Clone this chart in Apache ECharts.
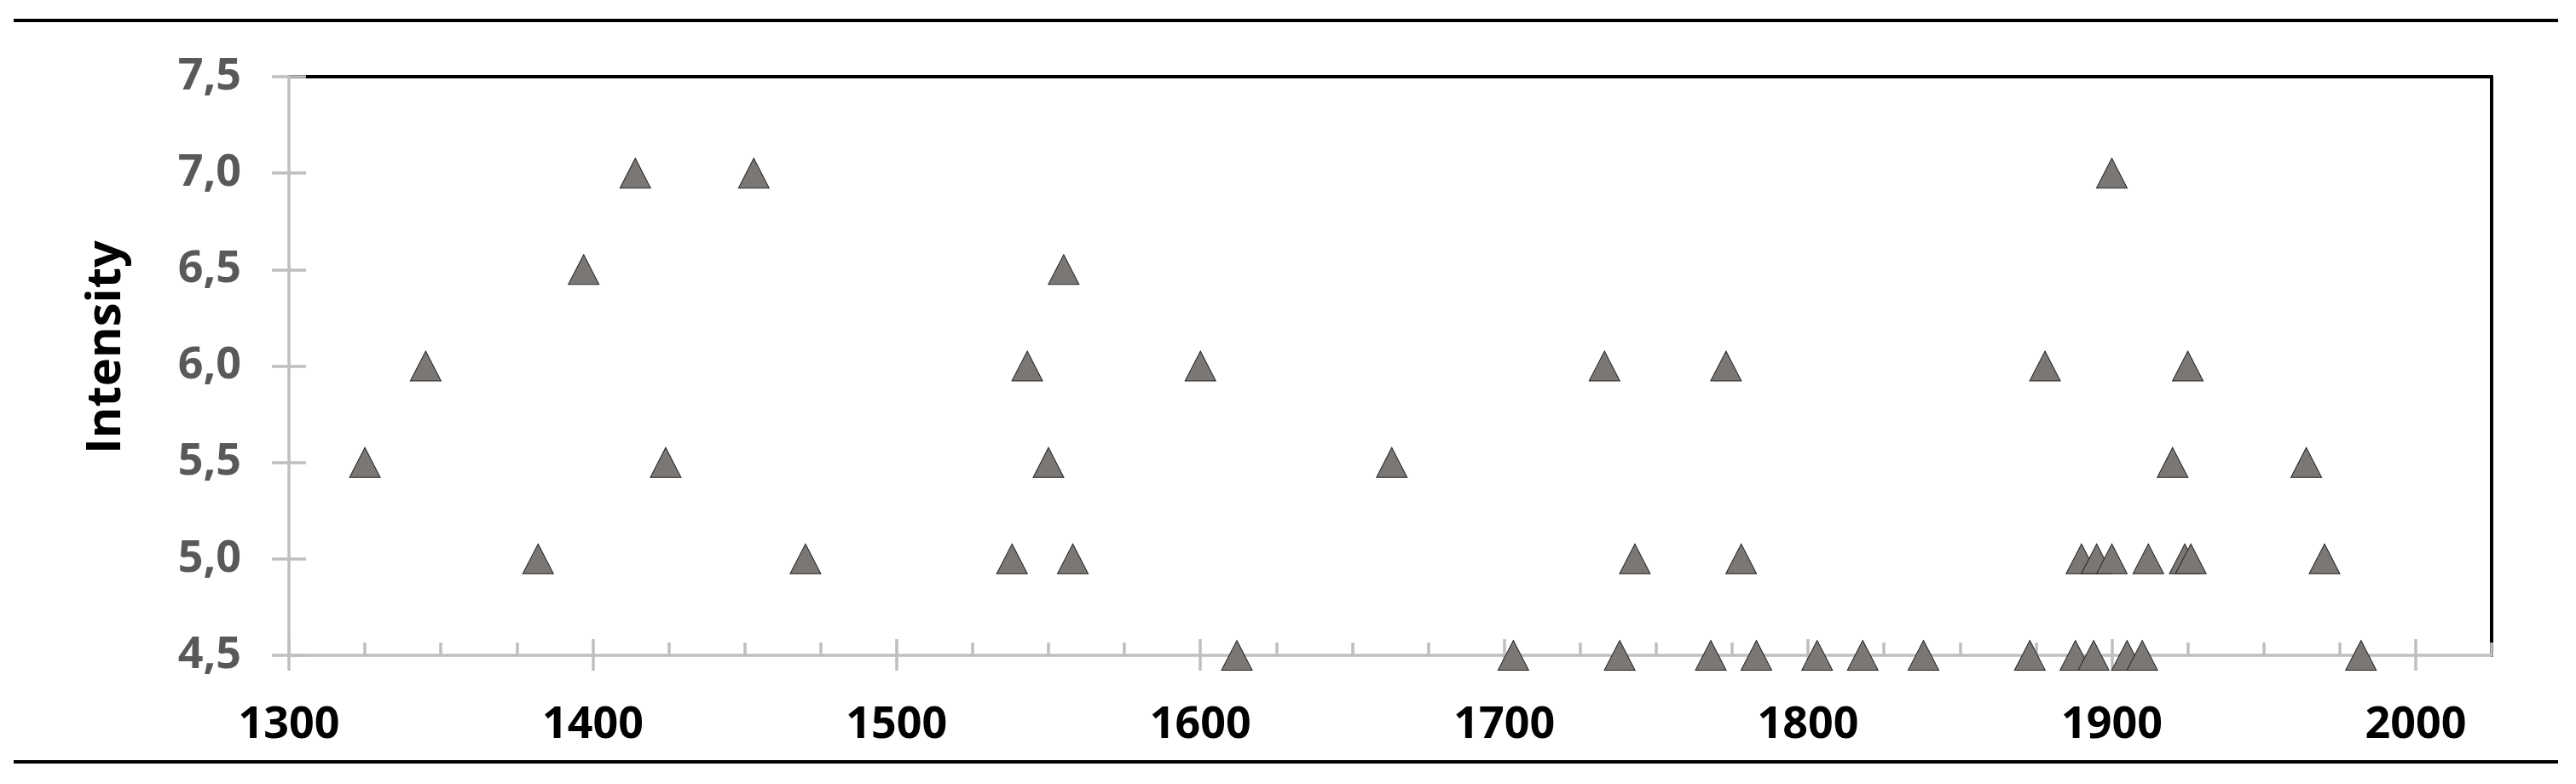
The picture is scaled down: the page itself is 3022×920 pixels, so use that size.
<!DOCTYPE html>
<html>
<head>
<meta charset="utf-8">
<script src="https://cdn.jsdelivr.net/npm/echarts@6/dist/echarts.min.js"></script>
<style>
  html, body { margin: 0; padding: 0; background: #fff; }
  #chart { width: 3022px; height: 920px; }
</style>
</head>
<body>
<div id="chart"></div>
<script>
// year of each event and its intensity
const years = [1325, 1345, 1382, 1397, 1414, 1424, 1453, 1470, 1538, 1543, 1550, 1555, 1558, 1600, 1612,
    1663, 1703, 1733, 1738, 1743, 1768, 1773, 1778, 1783, 1803, 1818, 1838, 1873, 1878, 1888,
    1890, 1894, 1895, 1900, 1900, 1905, 1910, 1912, 1920, 1924, 1925, 1926, 1964, 1970, 1982];
const intensities = [5.5, 6.0, 5.0, 6.5, 7.0, 5.5, 7.0, 5.0, 5.0, 6.0, 5.5, 6.5, 5.0, 6.0, 4.5,
    5.5, 4.5, 6.0, 4.5, 5.0, 4.5, 6.0, 5.0, 4.5, 4.5, 4.5, 4.5, 4.5, 6.0, 4.5,
    5.0, 4.5, 5.0, 5.0, 7.0, 4.5, 4.5, 5.0, 5.5, 5.0, 6.0, 5.0, 5.5, 5.0, 4.5];

const xMajorTicks = [1300, 1400, 1500, 1600, 1700, 1800, 1900, 2000];
const xMinorTicks = [1325, 1350, 1375, 1425, 1450, 1475, 1525, 1550, 1575, 1625, 1650, 1675,
    1725, 1750, 1775, 1825, 1850, 1875, 1925, 1950, 1975, 2025];
const yTicks = [4.5, 5.0, 5.5, 6.0, 6.5, 7.0, 7.5];

const GRAY = '#bfbfbf';
const FONT = '"Open Sans", "Liberation Sans", sans-serif';

const chart = echarts.init(document.getElementById('chart'));

function fmtY(v) {
    return v.toFixed(1).replace('.', ',');
}
function fmtX(v) {
    return xMajorTicks.includes(v) ? String(v) : '';
}

const xBase = { type: 'value', min: 1300, max: 2025, splitLine: { show: false } };
const yBase = { type: 'value', min: yTicks[0], max: yTicks[yTicks.length - 1], interval: 0.5, splitLine: { show: false } };

chart.setOption({
    animation: false,
    grid: { left: 339, right: 99, top: 90, bottom: 151, outerBoundsMode: 'none' },
    xAxis: [
        {
            ...xBase, position: 'bottom', z: 5,
            axisLine: { show: true, lineStyle: { color: GRAY, width: 3.5 } },
            axisTick: { show: true, inside: true, length: 15, customValues: xMinorTicks, lineStyle: { color: GRAY, width: 3.5 } },
            axisLabel: { show: false }
        },
        {
            ...xBase, position: 'bottom', z: 5,
            axisLine: { show: false },
            axisTick: { show: true, inside: true, length: 19, customValues: xMajorTicks, lineStyle: { color: GRAY, width: 3.5 } },
            axisLabel: { show: false }
        },
        {
            ...xBase, interval: 100, position: 'bottom', z: 5,
            axisLine: { show: false },
            axisTick: { show: true, inside: false, length: 18, customValues: xMajorTicks, lineStyle: { color: GRAY, width: 3.5 } },
            axisLabel: {
                margin: 56, formatter: fmtX, showMaxLabel: false,
                color: '#000', fontFamily: FONT, fontWeight: 'bold', fontSize: 52
            }
        },
        {
            // black plot-area border on top
            ...xBase, position: 'top', z: 1,
            axisLine: { show: true, lineStyle: { color: '#000', width: 4 } },
            axisTick: { show: false },
            axisLabel: { show: false }
        }
    ],
    yAxis: [
        {
            ...yBase, position: 'left', z: 5,
            name: 'Intensity', nameLocation: 'middle', nameGap: 186, nameRotate: 90,
            nameTextStyle: { color: '#000', fontFamily: FONT, fontWeight: 'bold', fontSize: 56, padding: [0, 0, 0, 44] },
            axisLine: { show: true, lineStyle: { color: GRAY, width: 3.5 } },
            axisTick: { show: true, inside: true, length: 20, lineStyle: { color: GRAY, width: 3.5 } },
            axisLabel: {
                margin: 56, formatter: fmtY,
                color: '#595959', fontFamily: FONT, fontWeight: 'bold', fontSize: 52
            }
        },
        {
            ...yBase, position: 'left', z: 5,
            axisLine: { show: false },
            axisTick: { show: true, inside: false, length: 20, lineStyle: { color: GRAY, width: 3.5 } },
            axisLabel: { show: false }
        },
        {
            // black plot-area border on the right
            ...yBase, position: 'right', z: 1,
            axisLine: { show: true, lineStyle: { color: '#000', width: 4 } },
            axisTick: { show: false },
            axisLabel: { show: false }
        }
    ],
    series: [{
        type: 'scatter',
        xAxisIndex: 0,
        yAxisIndex: 0,
        symbol: 'triangle',
        symbolSize: [36, 35],
        itemStyle: { color: '#7b7775', borderColor: '#262626', borderWidth: 1, opacity: 1 },
        data: years.map((y, i) => [y, intensities[i]]),
        z: 10
    }],
    graphic: [
        // table rules above and below the figure
        { type: 'rect', shape: { x: 16, y: 22, width: 2985, height: 4 }, style: { fill: '#000' } },
        { type: 'rect', shape: { x: 16, y: 892, width: 2985, height: 4 }, style: { fill: '#000' } }
    ]
});
</script>
</body>
</html>
